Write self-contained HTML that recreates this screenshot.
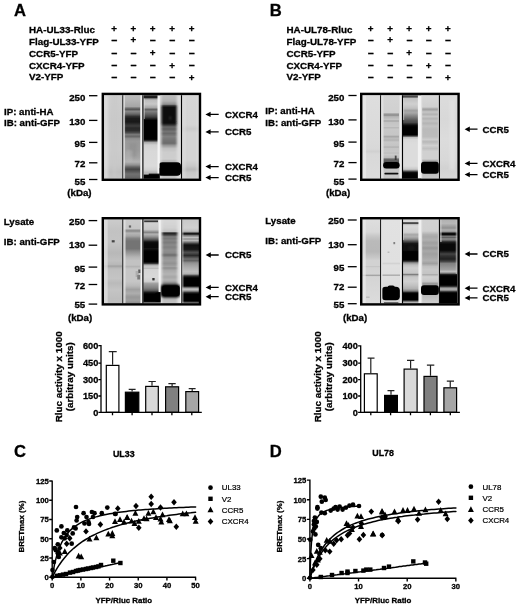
<!DOCTYPE html>
<html><head><meta charset="utf-8"><title>Figure</title>
<style>html,body{margin:0;padding:0;background:#fff}svg{display:block;filter:blur(0.45px)}text{font-family:'Liberation Sans', sans-serif;fill:#000}.b{stroke:#000;stroke-width:0.3px}</style>
</head><body>
<svg width="520" height="606" viewBox="0 0 520 606">
<defs>
<filter id="b1" x="-50%" y="-50%" width="200%" height="200%"><feGaussianBlur stdDeviation="0.4"/></filter>
<filter id="b2" x="-50%" y="-50%" width="200%" height="200%"><feGaussianBlur stdDeviation="0.7"/></filter>
<filter id="b3" x="-50%" y="-50%" width="200%" height="200%"><feGaussianBlur stdDeviation="1.0"/></filter>
<filter id="b4" x="-50%" y="-50%" width="200%" height="200%"><feGaussianBlur stdDeviation="1.5"/></filter>
<filter id="b5" x="-50%" y="-50%" width="200%" height="200%"><feGaussianBlur stdDeviation="2.2"/></filter>
<filter id="b6" x="-50%" y="-50%" width="200%" height="200%"><feGaussianBlur stdDeviation="3.0"/></filter>
<filter id="h1" x="-50%" y="-10%" width="200%" height="120%"><feGaussianBlur stdDeviation="0.6 0"/></filter>
<filter id="h2" x="-50%" y="-10%" width="200%" height="120%"><feGaussianBlur stdDeviation="1.0 0"/></filter>
<filter id="h3" x="-50%" y="-10%" width="200%" height="120%"><feGaussianBlur stdDeviation="1.6 0"/></filter>
</defs>
<rect width="520" height="606" fill="#fff"/>
<text x="13.9" y="15.8" font-size="16.6" font-weight="bold" text-anchor="start" class="b" >A</text>
<text x="269.7" y="15.8" font-size="16.6" font-weight="bold" text-anchor="start" class="b" >B</text>
<text x="13.9" y="457" font-size="16.6" font-weight="bold" text-anchor="start" class="b" >C</text>
<text x="269.7" y="457" font-size="16.6" font-weight="bold" text-anchor="start" class="b" >D</text>
<text x="29" y="32.8" font-size="9.8" font-weight="bold" text-anchor="start" class="b" >HA-UL33-Rluc</text>
<text x="29" y="44.8" font-size="9.8" font-weight="bold" text-anchor="start" class="b" >Flag-UL33-YFP</text>
<text x="29" y="56.7" font-size="9.8" font-weight="bold" text-anchor="start" class="b" >CCR5-YFP</text>
<text x="29" y="68.7" font-size="9.8" font-weight="bold" text-anchor="start" class="b" >CXCR4-YFP</text>
<text x="29" y="80.4" font-size="9.8" font-weight="bold" text-anchor="start" class="b" >V2-YFP</text>
<text x="114" y="31.5" font-size="9.8" font-weight="bold" text-anchor="middle" class="b" >+</text>
<text x="133.3" y="31.5" font-size="9.8" font-weight="bold" text-anchor="middle" class="b" >+</text>
<text x="152.5" y="31.5" font-size="9.8" font-weight="bold" text-anchor="middle" class="b" >+</text>
<text x="172" y="31.5" font-size="9.8" font-weight="bold" text-anchor="middle" class="b" >+</text>
<text x="191.5" y="31.5" font-size="9.8" font-weight="bold" text-anchor="middle" class="b" >+</text>
<text x="114" y="43.5" font-size="10.5" font-weight="bold" text-anchor="middle" class="b" >−</text>
<text x="133.3" y="43.4" font-size="9.8" font-weight="bold" text-anchor="middle" class="b" >+</text>
<text x="152.5" y="43.5" font-size="10.5" font-weight="bold" text-anchor="middle" class="b" >−</text>
<text x="172" y="43.5" font-size="10.5" font-weight="bold" text-anchor="middle" class="b" >−</text>
<text x="191.5" y="43.5" font-size="10.5" font-weight="bold" text-anchor="middle" class="b" >−</text>
<text x="114" y="56.5" font-size="10.5" font-weight="bold" text-anchor="middle" class="b" >−</text>
<text x="133.3" y="56.5" font-size="10.5" font-weight="bold" text-anchor="middle" class="b" >−</text>
<text x="152.5" y="56.4" font-size="9.8" font-weight="bold" text-anchor="middle" class="b" >+</text>
<text x="172" y="56.5" font-size="10.5" font-weight="bold" text-anchor="middle" class="b" >−</text>
<text x="191.5" y="56.5" font-size="10.5" font-weight="bold" text-anchor="middle" class="b" >−</text>
<text x="114" y="69.2" font-size="10.5" font-weight="bold" text-anchor="middle" class="b" >−</text>
<text x="133.3" y="69.2" font-size="10.5" font-weight="bold" text-anchor="middle" class="b" >−</text>
<text x="152.5" y="69.2" font-size="10.5" font-weight="bold" text-anchor="middle" class="b" >−</text>
<text x="172" y="69.1" font-size="9.8" font-weight="bold" text-anchor="middle" class="b" >+</text>
<text x="191.5" y="69.2" font-size="10.5" font-weight="bold" text-anchor="middle" class="b" >−</text>
<text x="114" y="81.0" font-size="10.5" font-weight="bold" text-anchor="middle" class="b" >−</text>
<text x="133.3" y="81.0" font-size="10.5" font-weight="bold" text-anchor="middle" class="b" >−</text>
<text x="152.5" y="81.0" font-size="10.5" font-weight="bold" text-anchor="middle" class="b" >−</text>
<text x="172" y="81.0" font-size="10.5" font-weight="bold" text-anchor="middle" class="b" >−</text>
<text x="191.5" y="80.9" font-size="9.8" font-weight="bold" text-anchor="middle" class="b" >+</text>
<text x="286.5" y="32.8" font-size="9.8" font-weight="bold" text-anchor="start" class="b" >HA-UL78-Rluc</text>
<text x="286.5" y="44.8" font-size="9.8" font-weight="bold" text-anchor="start" class="b" >Flag-UL78-YFP</text>
<text x="286.5" y="56.7" font-size="9.8" font-weight="bold" text-anchor="start" class="b" >CCR5-YFP</text>
<text x="286.5" y="68.7" font-size="9.8" font-weight="bold" text-anchor="start" class="b" >CXCR4-YFP</text>
<text x="286.5" y="80.4" font-size="9.8" font-weight="bold" text-anchor="start" class="b" >V2-YFP</text>
<text x="370.6" y="31.5" font-size="9.8" font-weight="bold" text-anchor="middle" class="b" >+</text>
<text x="390" y="31.5" font-size="9.8" font-weight="bold" text-anchor="middle" class="b" >+</text>
<text x="409.2" y="31.5" font-size="9.8" font-weight="bold" text-anchor="middle" class="b" >+</text>
<text x="428.5" y="31.5" font-size="9.8" font-weight="bold" text-anchor="middle" class="b" >+</text>
<text x="447.8" y="31.5" font-size="9.8" font-weight="bold" text-anchor="middle" class="b" >+</text>
<text x="370.6" y="43.5" font-size="10.5" font-weight="bold" text-anchor="middle" class="b" >−</text>
<text x="390" y="43.4" font-size="9.8" font-weight="bold" text-anchor="middle" class="b" >+</text>
<text x="409.2" y="43.5" font-size="10.5" font-weight="bold" text-anchor="middle" class="b" >−</text>
<text x="428.5" y="43.5" font-size="10.5" font-weight="bold" text-anchor="middle" class="b" >−</text>
<text x="447.8" y="43.5" font-size="10.5" font-weight="bold" text-anchor="middle" class="b" >−</text>
<text x="370.6" y="56.5" font-size="10.5" font-weight="bold" text-anchor="middle" class="b" >−</text>
<text x="390" y="56.5" font-size="10.5" font-weight="bold" text-anchor="middle" class="b" >−</text>
<text x="409.2" y="56.4" font-size="9.8" font-weight="bold" text-anchor="middle" class="b" >+</text>
<text x="428.5" y="56.5" font-size="10.5" font-weight="bold" text-anchor="middle" class="b" >−</text>
<text x="447.8" y="56.5" font-size="10.5" font-weight="bold" text-anchor="middle" class="b" >−</text>
<text x="370.6" y="69.2" font-size="10.5" font-weight="bold" text-anchor="middle" class="b" >−</text>
<text x="390" y="69.2" font-size="10.5" font-weight="bold" text-anchor="middle" class="b" >−</text>
<text x="409.2" y="69.2" font-size="10.5" font-weight="bold" text-anchor="middle" class="b" >−</text>
<text x="428.5" y="69.1" font-size="9.8" font-weight="bold" text-anchor="middle" class="b" >+</text>
<text x="447.8" y="69.2" font-size="10.5" font-weight="bold" text-anchor="middle" class="b" >−</text>
<text x="370.6" y="81.0" font-size="10.5" font-weight="bold" text-anchor="middle" class="b" >−</text>
<text x="390" y="81.0" font-size="10.5" font-weight="bold" text-anchor="middle" class="b" >−</text>
<text x="409.2" y="81.0" font-size="10.5" font-weight="bold" text-anchor="middle" class="b" >−</text>
<text x="428.5" y="81.0" font-size="10.5" font-weight="bold" text-anchor="middle" class="b" >−</text>
<text x="447.8" y="80.9" font-size="9.8" font-weight="bold" text-anchor="middle" class="b" >+</text>
<rect x="102" y="94" width="99" height="86" fill="#d6d6d6"/>
<clipPath id="c1"><rect x="104" y="95.2" width="18.40" height="83.60"/></clipPath>
<g clip-path="url(#c1)">
<linearGradient id="g1" gradientUnits="userSpaceOnUse" x1="0" y1="95.2" x2="0" y2="178.8">
<stop offset="0.0000" stop-color="#cecece"/>
<stop offset="0.2967" stop-color="#cacaca"/>
<stop offset="0.6555" stop-color="#cccccc"/>
<stop offset="0.8349" stop-color="#c8c8c8"/>
<stop offset="0.9187" stop-color="#c0c0c0"/>
<stop offset="1.0000" stop-color="#c6c6c6"/>
</linearGradient>
<rect x="104.00" y="92.2" width="18.40" height="89.60" fill="url(#g1)"/>
<rect x="104.00" y="95.20" width="4.05" height="83.60" rx="0" fill="#e4e4e4" opacity="0.6" filter="url(#b3)"/>
<rect x="112.28" y="95.20" width="4.60" height="83.60" rx="0" fill="#c8c8c8" opacity="0.5" filter="url(#b3)"/>
</g>
<clipPath id="c2"><rect x="124.2" y="95.2" width="16.20" height="83.60"/></clipPath>
<g clip-path="url(#c2)">
<linearGradient id="g2" gradientUnits="userSpaceOnUse" x1="0" y1="95.2" x2="0" y2="178.8">
<stop offset="0.0000" stop-color="#bcbcbc"/>
<stop offset="0.0694" stop-color="#b4b4b4"/>
<stop offset="0.1352" stop-color="#a6a6a6"/>
<stop offset="0.1567" stop-color="#6c6c6c"/>
<stop offset="0.1711" stop-color="#585858"/>
<stop offset="0.1926" stop-color="#888888"/>
<stop offset="0.2249" stop-color="#686868"/>
<stop offset="0.2548" stop-color="#303030"/>
<stop offset="0.2787" stop-color="#1c1c1c"/>
<stop offset="0.3206" stop-color="#181818"/>
<stop offset="0.3505" stop-color="#303030"/>
<stop offset="0.3684" stop-color="#3c3c3c"/>
<stop offset="0.3923" stop-color="#282828"/>
<stop offset="0.4222" stop-color="#2c2c2c"/>
<stop offset="0.4462" stop-color="#484848"/>
<stop offset="0.4701" stop-color="#787878"/>
<stop offset="0.4952" stop-color="#686868"/>
<stop offset="0.5179" stop-color="#8c8c8c"/>
<stop offset="0.5478" stop-color="#9a9a9a"/>
<stop offset="0.6555" stop-color="#9c9c9c"/>
<stop offset="0.7512" stop-color="#a6a6a6"/>
<stop offset="0.7990" stop-color="#b2b2b2"/>
<stop offset="0.8349" stop-color="#909090"/>
<stop offset="0.8589" stop-color="#646464"/>
<stop offset="0.8864" stop-color="#444444"/>
<stop offset="0.9127" stop-color="#585858"/>
<stop offset="0.9426" stop-color="#707070"/>
<stop offset="0.9785" stop-color="#686868"/>
<stop offset="1.0000" stop-color="#5c5c5c"/>
</linearGradient>
<rect x="124.20" y="92.2" width="16.20" height="89.60" fill="url(#g2)"/>
<rect x="124.20" y="95.20" width="0.97" height="83.60" rx="0" fill="#d0d0d0" opacity="0.4" filter="url(#b1)"/>
<rect x="129.06" y="143.00" width="8.10" height="14.00" rx="0" fill="#808080" opacity="0.3" filter="url(#b4)"/>
<rect x="125.82" y="150.00" width="6.48" height="12.00" rx="0" fill="#c0c0c0" opacity="0.35" filter="url(#b3)"/>
</g>
<clipPath id="c3"><rect x="143.5" y="95.2" width="17.50" height="83.60"/></clipPath>
<g clip-path="url(#c3)">
<linearGradient id="g3" gradientUnits="userSpaceOnUse" x1="0" y1="95.2" x2="0" y2="178.8">
<stop offset="0.0000" stop-color="#202020"/>
<stop offset="0.0287" stop-color="#202020"/>
<stop offset="0.0431" stop-color="#909090"/>
<stop offset="0.0574" stop-color="#bcbcbc"/>
<stop offset="0.1053" stop-color="#c8c8c8"/>
<stop offset="0.1471" stop-color="#a8a8a8"/>
<stop offset="0.1722" stop-color="#606060"/>
<stop offset="0.1926" stop-color="#808080"/>
<stop offset="0.2285" stop-color="#606060"/>
<stop offset="0.2608" stop-color="#404040"/>
<stop offset="0.2847" stop-color="#181818"/>
<stop offset="0.3026" stop-color="#000000"/>
<stop offset="0.5275" stop-color="#000000"/>
<stop offset="0.5455" stop-color="#383838"/>
<stop offset="0.5634" stop-color="#a8a8a8"/>
<stop offset="0.5957" stop-color="#d0d0d0"/>
<stop offset="0.6675" stop-color="#d8d8d8"/>
<stop offset="0.8469" stop-color="#dadada"/>
<stop offset="0.8947" stop-color="#d0d0d0"/>
<stop offset="0.9246" stop-color="#b8b8b8"/>
<stop offset="1.0000" stop-color="#b0b0b0"/>
</linearGradient>
<rect x="143.50" y="92.2" width="17.50" height="89.60" fill="url(#g3)"/>
<rect x="143.50" y="98.50" width="1.22" height="20.50" rx="0" fill="#e8e8e8" opacity="0.6" filter="url(#b2)"/>
<rect x="157.50" y="95.20" width="5.25" height="83.60" rx="0" fill="#f4f4f4" opacity="1" filter="url(#b2)"/>
<rect x="143.50" y="174.60" width="16.62" height="4.60" rx="0" fill="#000" opacity="1" filter="url(#b2)"/>
<rect x="148.75" y="173.60" width="11.38" height="3.90" rx="0" fill="#000" opacity="0.9" filter="url(#b2)"/>
</g>
<clipPath id="c4"><rect x="159.6" y="95.2" width="21.40" height="83.60"/></clipPath>
<g clip-path="url(#c4)">
<rect x="159.6" y="95.2" width="21.40" height="83.60" fill="#dcdcdc"/>
<linearGradient id="g4" gradientUnits="userSpaceOnUse" x1="0" y1="95.2" x2="0" y2="178.8">
<stop offset="0.0000" stop-color="#bcbcbc"/>
<stop offset="0.0694" stop-color="#b2b2b2"/>
<stop offset="0.1089" stop-color="#909090"/>
<stop offset="0.1268" stop-color="#303030"/>
<stop offset="0.1471" stop-color="#0a0a0a"/>
<stop offset="0.3325" stop-color="#080808"/>
<stop offset="0.3529" stop-color="#303030"/>
<stop offset="0.3804" stop-color="#686868"/>
<stop offset="0.4043" stop-color="#5c5c5c"/>
<stop offset="0.4330" stop-color="#747474"/>
<stop offset="0.4593" stop-color="#686868"/>
<stop offset="0.4952" stop-color="#808080"/>
<stop offset="0.5299" stop-color="#747474"/>
<stop offset="0.5754" stop-color="#6c6c6c"/>
<stop offset="0.6017" stop-color="#989898"/>
<stop offset="0.6376" stop-color="#c0c0c0"/>
<stop offset="0.6794" stop-color="#cccccc"/>
<stop offset="0.7632" stop-color="#cecece"/>
<stop offset="0.7871" stop-color="#b8b8b8"/>
<stop offset="1.0000" stop-color="#c4c4c4"/>
</linearGradient>
<rect x="161.40" y="92.2" width="15.40" height="89.60" fill="url(#g4)" filter="url(#h2)"/>
<rect x="169.23" y="116.50" width="2.14" height="3.00" rx="0" fill="#444" opacity="0.6" filter="url(#b3)"/>
<rect x="158.53" y="162.20" width="22.47" height="13.60" rx="4" fill="#000" opacity="1" filter="url(#b2)"/>
<rect x="160.88" y="163.00" width="19.47" height="12.20" rx="3" fill="#000" opacity="1" filter="url(#b2)"/>
<rect x="157.46" y="168.00" width="6.42" height="7.60" rx="3" fill="#000" opacity="1" filter="url(#b2)"/>
</g>
<clipPath id="c5"><rect x="182" y="95.2" width="17.20" height="83.60"/></clipPath>
<g clip-path="url(#c5)">
<linearGradient id="g5" gradientUnits="userSpaceOnUse" x1="0" y1="95.2" x2="0" y2="178.8">
<stop offset="0.0000" stop-color="#d6d6d6"/>
<stop offset="0.3565" stop-color="#d4d4d4"/>
<stop offset="0.4043" stop-color="#cacaca"/>
<stop offset="0.4522" stop-color="#d4d4d4"/>
<stop offset="0.7751" stop-color="#d4d4d4"/>
<stop offset="0.8469" stop-color="#c8c8c8"/>
<stop offset="0.8864" stop-color="#b8b8b8"/>
<stop offset="0.9246" stop-color="#c8c8c8"/>
<stop offset="1.0000" stop-color="#d0d0d0"/>
</linearGradient>
<rect x="182.00" y="92.2" width="17.20" height="89.60" fill="url(#g5)"/>
<rect x="182.00" y="95.20" width="3.44" height="83.60" rx="0" fill="#dedede" opacity="0.6" filter="url(#b3)"/>
<rect x="196.62" y="95.20" width="2.58" height="83.60" rx="0" fill="#dedede" opacity="0.6" filter="url(#b3)"/>
</g>
<rect x="122.35" y="95.2" width="1.1" height="83.60000000000001" fill="#000"/>
<rect x="123.55" y="95.2" width="0.9" height="83.60000000000001" fill="#f0f0f0"/>
<rect x="140.80" y="95.2" width="1.0" height="83.60000000000001" fill="#f4f4f4"/>
<rect x="142.35" y="95.2" width="1.1" height="83.60000000000001" fill="#000"/>
<rect x="180.95" y="95.2" width="1.1" height="83.60000000000001" fill="#000"/>
<rect x="102.8" y="93.9" width="97.19999999999999" height="85.89999999999999" fill="none" stroke="#000" stroke-width="2.4"/>
<text x="85.3" y="101" font-size="9.7" font-weight="bold" text-anchor="end" class="b" >250</text>
<rect x="89" y="95.05" width="8.400000000000006" height="1.3" fill="#000"/>
<text x="85.3" y="125" font-size="9.7" font-weight="bold" text-anchor="end" class="b" >130</text>
<rect x="89" y="119.75" width="8.400000000000006" height="1.3" fill="#000"/>
<text x="85.3" y="147" font-size="9.7" font-weight="bold" text-anchor="end" class="b" >95</text>
<rect x="89" y="141.75" width="8.400000000000006" height="1.3" fill="#000"/>
<text x="85.3" y="167" font-size="9.7" font-weight="bold" text-anchor="end" class="b" >72</text>
<rect x="89" y="162.15" width="8.400000000000006" height="1.3" fill="#000"/>
<text x="85.3" y="185" font-size="9.7" font-weight="bold" text-anchor="end" class="b" >55</text>
<rect x="89" y="178.85" width="8.400000000000006" height="1.3" fill="#000"/>
<text x="67.3" y="195.9" font-size="9.7" font-weight="bold" text-anchor="start" class="b" >(kDa)</text>
<text x="4.0" y="115" font-size="9.7" font-weight="bold" text-anchor="start" class="b" >IP: anti-HA</text>
<text x="4.0" y="126" font-size="9.7" font-weight="bold" text-anchor="start" class="b" >IB: anti-GFP</text>
<path d="M205.4,114.4 l5.2,-2.7 v2.05 h8.099999999999984 v1.3 h-8.099999999999984 v2.05 z" fill="#000"/>
<text x="225.0" y="117.7" font-size="9.7" font-weight="bold" text-anchor="start" class="b" >CXCR4</text>
<path d="M205.4,131.9 l5.2,-2.7 v2.05 h8.099999999999984 v1.3 h-8.099999999999984 v2.05 z" fill="#000"/>
<text x="225.0" y="135.2" font-size="9.7" font-weight="bold" text-anchor="start" class="b" >CCR5</text>
<path d="M205.4,166.6 l5.2,-2.7 v2.05 h8.099999999999984 v1.3 h-8.099999999999984 v2.05 z" fill="#000"/>
<text x="225.0" y="169.9" font-size="9.7" font-weight="bold" text-anchor="start" class="b" >CXCR4</text>
<path d="M205.4,177.6 l5.2,-2.7 v2.05 h8.099999999999984 v1.3 h-8.099999999999984 v2.05 z" fill="#000"/>
<text x="225.0" y="180.9" font-size="9.7" font-weight="bold" text-anchor="start" class="b" >CCR5</text>
<rect x="102" y="218" width="99" height="86" fill="#d0d0d0"/>
<clipPath id="c6"><rect x="104" y="219.2" width="18.40" height="84.30"/></clipPath>
<g clip-path="url(#c6)">
<linearGradient id="g6" gradientUnits="userSpaceOnUse" x1="0" y1="219.2" x2="0" y2="303.5">
<stop offset="0.0000" stop-color="#cccccc"/>
<stop offset="0.1400" stop-color="#c2c2c2"/>
<stop offset="0.2705" stop-color="#c4c4c4"/>
<stop offset="0.4009" stop-color="#b8b8b8"/>
<stop offset="0.4911" stop-color="#c0c0c0"/>
<stop offset="0.5374" stop-color="#b8b8b8"/>
<stop offset="0.5575" stop-color="#a2a2a2"/>
<stop offset="0.5789" stop-color="#b8b8b8"/>
<stop offset="0.6026" stop-color="#c0c0c0"/>
<stop offset="0.7023" stop-color="#c4c4c4"/>
<stop offset="0.7568" stop-color="#bababa"/>
<stop offset="0.8399" stop-color="#c4c4c4"/>
<stop offset="0.9466" stop-color="#bebebe"/>
<stop offset="1.0000" stop-color="#c0c0c0"/>
</linearGradient>
<rect x="104.00" y="216.2" width="18.40" height="90.30" fill="url(#g6)"/>
<rect x="104.00" y="219.20" width="3.68" height="84.30" rx="0" fill="#e2e2e2" opacity="0.7" filter="url(#b2)"/>
<rect x="111.73" y="240.20" width="2.94" height="2.20" rx="0" fill="#383838" opacity="0.9" filter="url(#b1)"/>
</g>
<clipPath id="c7"><rect x="124.3" y="219.2" width="16.20" height="84.30"/></clipPath>
<g clip-path="url(#c7)">
<linearGradient id="g7" gradientUnits="userSpaceOnUse" x1="0" y1="219.2" x2="0" y2="303.5">
<stop offset="0.0000" stop-color="#cccccc"/>
<stop offset="0.1115" stop-color="#c6c6c6"/>
<stop offset="0.1281" stop-color="#989898"/>
<stop offset="0.1400" stop-color="#868686"/>
<stop offset="0.1542" stop-color="#a6a6a6"/>
<stop offset="0.1696" stop-color="#b4b4b4"/>
<stop offset="0.1993" stop-color="#a6a6a6"/>
<stop offset="0.2266" stop-color="#848484"/>
<stop offset="0.2586" stop-color="#747474"/>
<stop offset="0.3499" stop-color="#747474"/>
<stop offset="0.3772" stop-color="#8a8a8a"/>
<stop offset="0.4009" stop-color="#989898"/>
<stop offset="0.4484" stop-color="#b4b4b4"/>
<stop offset="0.4911" stop-color="#c2c2c2"/>
<stop offset="0.5433" stop-color="#c2c2c2"/>
<stop offset="0.5611" stop-color="#b4b4b4"/>
<stop offset="0.5907" stop-color="#c6c6c6"/>
<stop offset="0.7378" stop-color="#c6c6c6"/>
<stop offset="0.7900" stop-color="#bababa"/>
<stop offset="0.8339" stop-color="#a0a0a0"/>
<stop offset="0.8790" stop-color="#aeaeae"/>
<stop offset="0.9229" stop-color="#989898"/>
<stop offset="0.9668" stop-color="#a0a0a0"/>
<stop offset="1.0000" stop-color="#8a8a8a"/>
</linearGradient>
<rect x="124.30" y="216.2" width="16.20" height="90.30" fill="url(#g7)"/>
<rect x="124.30" y="219.20" width="1.62" height="84.30" rx="0" fill="#e0e0e0" opacity="0.5" filter="url(#b2)"/>
<rect x="128.84" y="225.40" width="2.27" height="2.20" rx="0" fill="#555" opacity="0.85" filter="url(#b1)"/>
<rect x="138.23" y="269.50" width="2.59" height="3.50" rx="0" fill="#3a3a3a" opacity="0.75" filter="url(#b1)"/>
<rect x="137.26" y="275.00" width="2.92" height="4.50" rx="0" fill="#4a4a4a" opacity="0.6" filter="url(#b1)"/>
<rect x="135.64" y="271.00" width="3.24" height="6.00" rx="0" fill="#888" opacity="0.4" filter="url(#b2)"/>
</g>
<clipPath id="c8"><rect x="143.2" y="219.2" width="19.00" height="84.30"/></clipPath>
<g clip-path="url(#c8)">
<linearGradient id="g8" gradientUnits="userSpaceOnUse" x1="0" y1="219.2" x2="0" y2="303.5">
<stop offset="0.0000" stop-color="#d4d4d4"/>
<stop offset="0.0498" stop-color="#d0d0d0"/>
<stop offset="0.1210" stop-color="#c8c8c8"/>
<stop offset="0.1435" stop-color="#a0a0a0"/>
<stop offset="0.1554" stop-color="#808080"/>
<stop offset="0.1684" stop-color="#a0a0a0"/>
<stop offset="0.1827" stop-color="#b0b0b0"/>
<stop offset="0.2088" stop-color="#909090"/>
<stop offset="0.2444" stop-color="#505050"/>
<stop offset="0.2705" stop-color="#101010"/>
<stop offset="0.2942" stop-color="#080808"/>
<stop offset="0.3357" stop-color="#080808"/>
<stop offset="0.3499" stop-color="#161616"/>
<stop offset="0.3654" stop-color="#080808"/>
<stop offset="0.3855" stop-color="#000000"/>
<stop offset="0.5077" stop-color="#000000"/>
<stop offset="0.5255" stop-color="#383838"/>
<stop offset="0.5433" stop-color="#b0b0b0"/>
<stop offset="0.5670" stop-color="#d0d0d0"/>
<stop offset="0.5824" stop-color="#b8b8b8"/>
<stop offset="0.5967" stop-color="#d4d4d4"/>
<stop offset="0.6856" stop-color="#d8d8d8"/>
<stop offset="0.7378" stop-color="#d0d0d0"/>
<stop offset="0.7639" stop-color="#a0a0a0"/>
<stop offset="0.7900" stop-color="#909090"/>
<stop offset="0.8161" stop-color="#808080"/>
<stop offset="0.8434" stop-color="#606060"/>
<stop offset="0.8695" stop-color="#181818"/>
<stop offset="0.8873" stop-color="#000000"/>
<stop offset="0.9751" stop-color="#000000"/>
<stop offset="0.9870" stop-color="#606060"/>
<stop offset="0.9964" stop-color="#b0b0b0"/>
<stop offset="1.0000" stop-color="#b0b0b0"/>
</linearGradient>
<rect x="143.20" y="216.2" width="19.00" height="90.30" fill="url(#g8)"/>
<rect x="144.15" y="220.40" width="13.87" height="1.80" rx="0" fill="#282828" opacity="0.9" filter="url(#b1)"/>
<rect x="158.59" y="219.20" width="5.51" height="72.80" rx="0" fill="#f2f2f2" opacity="1" filter="url(#b2)"/>
<rect x="152.32" y="278.00" width="2.28" height="2.40" rx="0" fill="#202020" opacity="0.9" filter="url(#b1)"/>
<rect x="154.60" y="292.50" width="6.65" height="9.50" rx="3" fill="#000" opacity="1" filter="url(#b2)"/>
</g>
<clipPath id="c9"><rect x="160.5" y="219.2" width="19.50" height="84.30"/></clipPath>
<g clip-path="url(#c9)">
<rect x="160.5" y="219.2" width="19.50" height="84.30" fill="#e2e2e2"/>
<linearGradient id="g9" gradientUnits="userSpaceOnUse" x1="0" y1="219.2" x2="0" y2="303.5">
<stop offset="0.0000" stop-color="#d8d8d8"/>
<stop offset="0.1044" stop-color="#d0d0d0"/>
<stop offset="0.1471" stop-color="#c0c0c0"/>
<stop offset="0.1601" stop-color="#404040"/>
<stop offset="0.1708" stop-color="#242424"/>
<stop offset="0.1874" stop-color="#444444"/>
<stop offset="0.2088" stop-color="#808080"/>
<stop offset="0.2266" stop-color="#767676"/>
<stop offset="0.2527" stop-color="#848484"/>
<stop offset="0.2788" stop-color="#7c7c7c"/>
<stop offset="0.3060" stop-color="#8a8a8a"/>
<stop offset="0.3321" stop-color="#808080"/>
<stop offset="0.3677" stop-color="#909090"/>
<stop offset="0.4009" stop-color="#8a8a8a"/>
<stop offset="0.4247" stop-color="#6c6c6c"/>
<stop offset="0.4555" stop-color="#949494"/>
<stop offset="0.4911" stop-color="#9c9c9c"/>
<stop offset="0.5255" stop-color="#929292"/>
<stop offset="0.5611" stop-color="#a2a2a2"/>
<stop offset="0.5789" stop-color="#8e8e8e"/>
<stop offset="0.6050" stop-color="#a8a8a8"/>
<stop offset="0.6501" stop-color="#b4b4b4"/>
<stop offset="0.6856" stop-color="#a6a6a6"/>
<stop offset="0.7212" stop-color="#b4b4b4"/>
<stop offset="0.7509" stop-color="#989898"/>
<stop offset="1.0000" stop-color="#c4c4c4"/>
</linearGradient>
<rect x="162.10" y="216.2" width="15.30" height="90.30" fill="url(#g9)" filter="url(#h2)"/>
<rect x="160.50" y="284.30" width="19.89" height="13.20" rx="4" fill="#000" opacity="1" filter="url(#b3)"/>
<rect x="162.06" y="285.60" width="17.55" height="10.70" rx="3" fill="#000" opacity="1" filter="url(#b2)"/>
</g>
<clipPath id="c10"><rect x="182.2" y="219.2" width="17.00" height="84.30"/></clipPath>
<g clip-path="url(#c10)">
<linearGradient id="g10" gradientUnits="userSpaceOnUse" x1="0" y1="219.2" x2="0" y2="303.5">
<stop offset="0.0000" stop-color="#c8c8c8"/>
<stop offset="0.1044" stop-color="#d0d0d0"/>
<stop offset="0.1388" stop-color="#c0c0c0"/>
<stop offset="0.1542" stop-color="#a0a0a0"/>
<stop offset="0.1625" stop-color="#181818"/>
<stop offset="0.1779" stop-color="#181818"/>
<stop offset="0.1898" stop-color="#707070"/>
<stop offset="0.2171" stop-color="#c0c0c0"/>
<stop offset="0.2349" stop-color="#909090"/>
<stop offset="0.2527" stop-color="#b8b8b8"/>
<stop offset="0.2705" stop-color="#808080"/>
<stop offset="0.2883" stop-color="#404040"/>
<stop offset="0.3060" stop-color="#101010"/>
<stop offset="0.3582" stop-color="#181818"/>
<stop offset="0.3772" stop-color="#383838"/>
<stop offset="0.3938" stop-color="#505050"/>
<stop offset="0.4128" stop-color="#404040"/>
<stop offset="0.4294" stop-color="#282828"/>
<stop offset="0.4484" stop-color="#484848"/>
<stop offset="0.4721" stop-color="#707070"/>
<stop offset="0.4911" stop-color="#606060"/>
<stop offset="0.5172" stop-color="#909090"/>
<stop offset="0.5433" stop-color="#a0a0a0"/>
<stop offset="0.5789" stop-color="#b0b0b0"/>
<stop offset="0.6228" stop-color="#c0c0c0"/>
<stop offset="0.6501" stop-color="#b0b0b0"/>
<stop offset="0.6667" stop-color="#505050"/>
<stop offset="0.6845" stop-color="#101010"/>
<stop offset="0.7023" stop-color="#000000"/>
<stop offset="0.7900" stop-color="#000000"/>
<stop offset="0.8043" stop-color="#404040"/>
<stop offset="0.8161" stop-color="#a0a0a0"/>
<stop offset="0.8351" stop-color="#c0c0c0"/>
<stop offset="0.8517" stop-color="#909090"/>
<stop offset="0.8695" stop-color="#303030"/>
<stop offset="0.8873" stop-color="#000000"/>
<stop offset="0.9668" stop-color="#000000"/>
<stop offset="0.9822" stop-color="#303030"/>
<stop offset="0.9941" stop-color="#909090"/>
</linearGradient>
<rect x="182.20" y="216.2" width="17.00" height="90.30" fill="url(#g10)"/>
<rect x="182.20" y="219.20" width="1.36" height="84.30" rx="0" fill="#c8c8c8" opacity="0.5" filter="url(#b2)"/>
</g>
<rect x="122.35" y="219.2" width="1.1" height="84.30000000000001" fill="#000"/>
<rect x="123.55" y="219.2" width="0.9" height="84.30000000000001" fill="#f0f0f0"/>
<rect x="140.90" y="219.2" width="1.0" height="84.30000000000001" fill="#f4f4f4"/>
<rect x="142.35" y="219.2" width="1.1" height="84.30000000000001" fill="#000"/>
<rect x="180.00" y="219.2" width="1.0" height="84.30000000000001" fill="#f4f4f4"/>
<rect x="181.25" y="219.2" width="0.9" height="84.30000000000001" fill="#222"/>
<rect x="102.8" y="218.2" width="97.19999999999999" height="86.20000000000002" fill="none" stroke="#000" stroke-width="2.4"/>
<text x="85.2" y="225" font-size="9.7" font-weight="bold" text-anchor="end" class="b" >250</text>
<rect x="88.6" y="219.95" width="8.600000000000009" height="1.3" fill="#000"/>
<text x="85.2" y="248.3" font-size="9.7" font-weight="bold" text-anchor="end" class="b" >130</text>
<rect x="88.6" y="244.54999999999998" width="8.600000000000009" height="1.3" fill="#000"/>
<text x="85.2" y="271.6" font-size="9.7" font-weight="bold" text-anchor="end" class="b" >95</text>
<rect x="88.6" y="266.45000000000005" width="8.600000000000009" height="1.3" fill="#000"/>
<text x="85.2" y="288.9" font-size="9.7" font-weight="bold" text-anchor="end" class="b" >72</text>
<rect x="88.6" y="283.85" width="8.600000000000009" height="1.3" fill="#000"/>
<text x="85.2" y="308" font-size="9.7" font-weight="bold" text-anchor="end" class="b" >55</text>
<rect x="88.6" y="303.45000000000005" width="8.600000000000009" height="1.3" fill="#000"/>
<text x="68" y="320.8" font-size="9.7" font-weight="bold" text-anchor="start" class="b" >(kDa)</text>
<text x="3.8" y="225" font-size="9.7" font-weight="bold" text-anchor="start" class="b" >Lysate</text>
<text x="3.8" y="245.1" font-size="9.7" font-weight="bold" text-anchor="start" class="b" >IB: anti-GFP</text>
<path d="M205.6,255 l5.2,-2.7 v2.05 h7.899999999999994 v1.3 h-7.899999999999994 v2.05 z" fill="#000"/>
<text x="225.0" y="258.3" font-size="9.7" font-weight="bold" text-anchor="start" class="b" >CCR5</text>
<path d="M205.6,287.4 l5.2,-2.7 v2.05 h7.899999999999994 v1.3 h-7.899999999999994 v2.05 z" fill="#000"/>
<text x="225.0" y="290.7" font-size="9.7" font-weight="bold" text-anchor="start" class="b" >CXCR4</text>
<path d="M205.6,296.7 l5.2,-2.7 v2.05 h7.899999999999994 v1.3 h-7.899999999999994 v2.05 z" fill="#000"/>
<text x="225.0" y="300.0" font-size="9.7" font-weight="bold" text-anchor="start" class="b" >CCR5</text>
<rect x="361" y="94" width="98" height="86" fill="#dadada"/>
<clipPath id="c11"><rect x="362.5" y="95.2" width="17.70" height="83.60"/></clipPath>
<g clip-path="url(#c11)">
<linearGradient id="g11" gradientUnits="userSpaceOnUse" x1="0" y1="95.2" x2="0" y2="178.8">
<stop offset="0.0000" stop-color="#dedede"/>
<stop offset="0.5359" stop-color="#dadada"/>
<stop offset="0.6435" stop-color="#d8d8d8"/>
<stop offset="0.6722" stop-color="#d0d0d0"/>
<stop offset="0.7033" stop-color="#d8d8d8"/>
<stop offset="1.0000" stop-color="#dcdcdc"/>
</linearGradient>
<rect x="362.50" y="92.2" width="17.70" height="89.60" fill="url(#g11)"/>
<rect x="362.50" y="95.20" width="3.54" height="83.60" rx="0" fill="#ececec" opacity="0.7" filter="url(#b2)"/>
</g>
<clipPath id="c12"><rect x="382.2" y="95.2" width="18.00" height="83.60"/></clipPath>
<g clip-path="url(#c12)">
<rect x="382.2" y="95.2" width="18.00" height="83.60" fill="#dcdcdc"/>
<linearGradient id="g12" gradientUnits="userSpaceOnUse" x1="0" y1="95.2" x2="0" y2="178.8">
<stop offset="0.0000" stop-color="#d4d4d4"/>
<stop offset="0.2069" stop-color="#d0d0d0"/>
<stop offset="0.2249" stop-color="#9c9c9c"/>
<stop offset="0.2392" stop-color="#8c8c8c"/>
<stop offset="0.2560" stop-color="#b4b4b4"/>
<stop offset="0.2907" stop-color="#c4c4c4"/>
<stop offset="0.3086" stop-color="#a6a6a6"/>
<stop offset="0.3266" stop-color="#c4c4c4"/>
<stop offset="0.3744" stop-color="#c8c8c8"/>
<stop offset="0.3888" stop-color="#b6b6b6"/>
<stop offset="0.4043" stop-color="#c8c8c8"/>
<stop offset="0.4761" stop-color="#c6c6c6"/>
<stop offset="0.4952" stop-color="#a6a6a6"/>
<stop offset="0.5156" stop-color="#bcbcbc"/>
<stop offset="0.5395" stop-color="#b4b4b4"/>
<stop offset="0.5598" stop-color="#c8c8c8"/>
<stop offset="0.6077" stop-color="#c4c4c4"/>
<stop offset="0.6196" stop-color="#aeaeae"/>
<stop offset="0.6352" stop-color="#c4c4c4"/>
<stop offset="0.6794" stop-color="#c8c8c8"/>
<stop offset="0.6914" stop-color="#bcbcbc"/>
<stop offset="0.7069" stop-color="#cacaca"/>
<stop offset="0.7452" stop-color="#bcbcbc"/>
<stop offset="0.7656" stop-color="#686868"/>
<stop offset="0.7847" stop-color="#5c5c5c"/>
<stop offset="0.7990" stop-color="#585858"/>
<stop offset="0.8469" stop-color="#808080"/>
<stop offset="0.8756" stop-color="#b0b0b0"/>
<stop offset="0.8876" stop-color="#c4c4c4"/>
<stop offset="1.0000" stop-color="#c8c8c8"/>
</linearGradient>
<rect x="383.60" y="92.2" width="15.40" height="89.60" fill="url(#g12)" filter="url(#h1)"/>
<rect x="383.10" y="162.10" width="16.56" height="6.40" rx="3.2" fill="#000" opacity="1" filter="url(#b1)"/>
<rect x="384.36" y="172.70" width="14.04" height="1.80" rx="0.8" fill="#111" opacity="1" filter="url(#b1)"/>
<rect x="394.80" y="155.60" width="1.80" height="4.40" rx="0" fill="#303030" opacity="0.85" filter="url(#b1)"/>
</g>
<clipPath id="c13"><rect x="403.0" y="95.2" width="18.60" height="83.60"/></clipPath>
<g clip-path="url(#c13)">
<linearGradient id="g13" gradientUnits="userSpaceOnUse" x1="0" y1="95.2" x2="0" y2="178.8">
<stop offset="0.0000" stop-color="#484848"/>
<stop offset="0.0215" stop-color="#484848"/>
<stop offset="0.0371" stop-color="#c0c0c0"/>
<stop offset="0.1053" stop-color="#d0d0d0"/>
<stop offset="0.1567" stop-color="#c0c0c0"/>
<stop offset="0.1842" stop-color="#a0a0a0"/>
<stop offset="0.2105" stop-color="#a8a8a8"/>
<stop offset="0.2368" stop-color="#909090"/>
<stop offset="0.2727" stop-color="#707070"/>
<stop offset="0.2990" stop-color="#585858"/>
<stop offset="0.3266" stop-color="#484848"/>
<stop offset="0.3445" stop-color="#242424"/>
<stop offset="0.3612" stop-color="#0a0a0a"/>
<stop offset="0.3804" stop-color="#000000"/>
<stop offset="0.4713" stop-color="#000000"/>
<stop offset="0.4880" stop-color="#383838"/>
<stop offset="0.5060" stop-color="#c0c0c0"/>
<stop offset="0.5299" stop-color="#d8d8d8"/>
<stop offset="0.5837" stop-color="#dcdcdc"/>
<stop offset="0.8469" stop-color="#dcdcdc"/>
<stop offset="0.8864" stop-color="#c8c8c8"/>
<stop offset="0.9043" stop-color="#707070"/>
<stop offset="0.9211" stop-color="#101010"/>
<stop offset="0.9390" stop-color="#000000"/>
<stop offset="1.0000" stop-color="#000000"/>
</linearGradient>
<rect x="403.00" y="92.2" width="18.60" height="89.60" fill="url(#g13)"/>
<rect x="417.88" y="95.20" width="5.58" height="83.60" rx="0" fill="#f2f2f2" opacity="1" filter="url(#b2)"/>
<rect x="403.00" y="98.00" width="1.12" height="22.00" rx="0" fill="#e0e0e0" opacity="0.6" filter="url(#b2)"/>
</g>
<clipPath id="c14"><rect x="421.0" y="95.2" width="17.90" height="83.60"/></clipPath>
<g clip-path="url(#c14)">
<rect x="421.0" y="95.2" width="17.90" height="83.60" fill="#e2e2e2"/>
<linearGradient id="g14" gradientUnits="userSpaceOnUse" x1="0" y1="95.2" x2="0" y2="178.8">
<stop offset="0.0000" stop-color="#d8d8d8"/>
<stop offset="0.1411" stop-color="#d0d0d0"/>
<stop offset="0.1627" stop-color="#a8a8a8"/>
<stop offset="0.1746" stop-color="#a0a0a0"/>
<stop offset="0.1890" stop-color="#b8b8b8"/>
<stop offset="0.2010" stop-color="#c6c6c6"/>
<stop offset="0.2285" stop-color="#b2b2b2"/>
<stop offset="0.2548" stop-color="#c6c6c6"/>
<stop offset="0.2811" stop-color="#b4b4b4"/>
<stop offset="0.3086" stop-color="#c2c2c2"/>
<stop offset="0.3349" stop-color="#b4b4b4"/>
<stop offset="0.3708" stop-color="#c2c2c2"/>
<stop offset="0.4055" stop-color="#bababa"/>
<stop offset="0.4952" stop-color="#bcbcbc"/>
<stop offset="0.5299" stop-color="#cccccc"/>
<stop offset="0.5574" stop-color="#b8b8b8"/>
<stop offset="0.6017" stop-color="#d0d0d0"/>
<stop offset="0.6376" stop-color="#c0c0c0"/>
<stop offset="0.6722" stop-color="#d0d0d0"/>
<stop offset="0.7632" stop-color="#d0d0d0"/>
<stop offset="0.7883" stop-color="#a0a0a0"/>
<stop offset="1.0000" stop-color="#c8c8c8"/>
</linearGradient>
<rect x="422.20" y="92.2" width="15.70" height="89.60" fill="url(#g14)" filter="url(#h1)"/>
<rect x="421.00" y="161.80" width="17.90" height="12.00" rx="3" fill="#000" opacity="1" filter="url(#b2)"/>
<rect x="421.89" y="163.00" width="16.29" height="9.60" rx="3" fill="#000" opacity="1" filter="url(#b2)"/>
</g>
<clipPath id="c15"><rect x="440" y="95.2" width="17.50" height="83.60"/></clipPath>
<g clip-path="url(#c15)">
<linearGradient id="g15" gradientUnits="userSpaceOnUse" x1="0" y1="95.2" x2="0" y2="178.8">
<stop offset="0.0000" stop-color="#dcdcdc"/>
<stop offset="0.2967" stop-color="#d8d8d8"/>
<stop offset="0.5359" stop-color="#dcdcdc"/>
<stop offset="0.7751" stop-color="#d8d8d8"/>
<stop offset="0.8708" stop-color="#d2d2d2"/>
<stop offset="1.0000" stop-color="#d8d8d8"/>
</linearGradient>
<rect x="440.00" y="92.2" width="17.50" height="89.60" fill="url(#g15)"/>
<rect x="449.62" y="100.00" width="5.25" height="70.00" rx="0" fill="#e4e4e4" opacity="0.6" filter="url(#b3)"/>
</g>
<rect x="380.15" y="95.2" width="1.1" height="83.60000000000001" fill="#000"/>
<rect x="381.35" y="95.2" width="0.9" height="83.60000000000001" fill="#f0f0f0"/>
<rect x="400.30" y="95.2" width="1.0" height="83.60000000000001" fill="#f4f4f4"/>
<rect x="401.95" y="95.2" width="1.1" height="83.60000000000001" fill="#000"/>
<rect x="438.85" y="95.2" width="1.1" height="83.60000000000001" fill="#000"/>
<rect x="361.2" y="93.9" width="97.4" height="85.89999999999999" fill="none" stroke="#000" stroke-width="2.4"/>
<text x="344.3" y="101" font-size="9.7" font-weight="bold" text-anchor="end" class="b" >250</text>
<rect x="348.4" y="94.85" width="8.200000000000045" height="1.3" fill="#000"/>
<text x="344.3" y="125" font-size="9.7" font-weight="bold" text-anchor="end" class="b" >130</text>
<rect x="348.4" y="119.25" width="8.200000000000045" height="1.3" fill="#000"/>
<text x="344.3" y="147" font-size="9.7" font-weight="bold" text-anchor="end" class="b" >95</text>
<rect x="348.4" y="141.45" width="8.200000000000045" height="1.3" fill="#000"/>
<text x="344.3" y="167" font-size="9.7" font-weight="bold" text-anchor="end" class="b" >72</text>
<rect x="348.4" y="161.95" width="8.200000000000045" height="1.3" fill="#000"/>
<text x="344.3" y="185" font-size="9.7" font-weight="bold" text-anchor="end" class="b" >55</text>
<rect x="348.4" y="178.45" width="8.200000000000045" height="1.3" fill="#000"/>
<text x="326" y="195.5" font-size="9.7" font-weight="bold" text-anchor="start" class="b" >(kDa)</text>
<text x="265.3" y="114" font-size="9.7" font-weight="bold" text-anchor="start" class="b" >IP: anti-HA</text>
<text x="265.3" y="126.4" font-size="9.7" font-weight="bold" text-anchor="start" class="b" >IB: anti-GFP</text>
<path d="M464.6,129.2 l5.2,-2.7 v2.05 h7.699999999999977 v1.3 h-7.699999999999977 v2.05 z" fill="#000"/>
<text x="482.5" y="132.5" font-size="9.7" font-weight="bold" text-anchor="start" class="b" >CCR5</text>
<path d="M464.6,163.4 l5.2,-2.7 v2.05 h7.699999999999977 v1.3 h-7.699999999999977 v2.05 z" fill="#000"/>
<text x="482.5" y="166.7" font-size="9.7" font-weight="bold" text-anchor="start" class="b" >CXCR4</text>
<path d="M464.6,174.6 l5.2,-2.7 v2.05 h7.699999999999977 v1.3 h-7.699999999999977 v2.05 z" fill="#000"/>
<text x="482.5" y="177.9" font-size="9.7" font-weight="bold" text-anchor="start" class="b" >CCR5</text>
<rect x="361" y="218" width="98" height="86" fill="#d8d8d8"/>
<clipPath id="c16"><rect x="362.5" y="219.2" width="17.70" height="84.30"/></clipPath>
<g clip-path="url(#c16)">
<linearGradient id="g16" gradientUnits="userSpaceOnUse" x1="0" y1="219.2" x2="0" y2="303.5">
<stop offset="0.0000" stop-color="#dedede"/>
<stop offset="0.1518" stop-color="#d8d8d8"/>
<stop offset="0.1993" stop-color="#c8c8c8"/>
<stop offset="0.2586" stop-color="#bababa"/>
<stop offset="0.3855" stop-color="#b8b8b8"/>
<stop offset="0.4555" stop-color="#c8c8c8"/>
<stop offset="0.4911" stop-color="#d2d2d2"/>
<stop offset="0.5492" stop-color="#d2d2d2"/>
<stop offset="0.5611" stop-color="#c6c6c6"/>
<stop offset="0.5765" stop-color="#d2d2d2"/>
<stop offset="0.6501" stop-color="#d4d4d4"/>
<stop offset="0.6667" stop-color="#a0a0a0"/>
<stop offset="0.6809" stop-color="#d4d4d4"/>
<stop offset="1.0000" stop-color="#dcdcdc"/>
</linearGradient>
<rect x="362.50" y="216.2" width="17.70" height="90.30" fill="url(#g16)"/>
<rect x="362.50" y="219.20" width="3.19" height="84.30" rx="0" fill="#ececec" opacity="0.7" filter="url(#b2)"/>
<rect x="366.04" y="296.50" width="3.54" height="1.50" rx="0" fill="#aaa" opacity="0.6" filter="url(#b1)"/>
</g>
<clipPath id="c17"><rect x="382.2" y="219.2" width="18.00" height="84.30"/></clipPath>
<g clip-path="url(#c17)">
<linearGradient id="g17" gradientUnits="userSpaceOnUse" x1="0" y1="219.2" x2="0" y2="303.5">
<stop offset="0.0000" stop-color="#e2e2e2"/>
<stop offset="0.5077" stop-color="#e0e0e0"/>
<stop offset="0.5255" stop-color="#d2d2d2"/>
<stop offset="0.5433" stop-color="#e0e0e0"/>
<stop offset="0.6501" stop-color="#dedede"/>
<stop offset="0.6643" stop-color="#a0a0a0"/>
<stop offset="0.6785" stop-color="#dedede"/>
<stop offset="0.7568" stop-color="#dcdcdc"/>
<stop offset="0.9703" stop-color="#d4d4d4"/>
<stop offset="1.0000" stop-color="#d0d0d0"/>
</linearGradient>
<rect x="382.20" y="216.2" width="18.00" height="90.30" fill="url(#g17)"/>
<rect x="393.36" y="242.00" width="1.80" height="2.20" rx="0" fill="#6a6a6a" opacity="0.8" filter="url(#b1)"/>
<rect x="387.60" y="251.50" width="1.80" height="1.50" rx="0" fill="#b0b0b0" opacity="0.8" filter="url(#b1)"/>
<rect x="381.66" y="286.80" width="18.18" height="13.40" rx="4" fill="#000" opacity="1" filter="url(#b2)"/>
<rect x="382.56" y="287.60" width="16.38" height="12.00" rx="4" fill="#000" opacity="1" filter="url(#b1)"/>
<rect x="387.60" y="285.60" width="7.20" height="4.40" rx="2" fill="#000" opacity="1" filter="url(#b2)"/>
<rect x="384.00" y="302.20" width="14.40" height="1.20" rx="0" fill="#333" opacity="0.8" filter="url(#b1)"/>
</g>
<clipPath id="c18"><rect x="403.0" y="219.2" width="18.60" height="84.30"/></clipPath>
<g clip-path="url(#c18)">
<linearGradient id="g18" gradientUnits="userSpaceOnUse" x1="0" y1="219.2" x2="0" y2="303.5">
<stop offset="0.0000" stop-color="#d8d8d8"/>
<stop offset="0.0332" stop-color="#d8d8d8"/>
<stop offset="0.0403" stop-color="#484848"/>
<stop offset="0.0546" stop-color="#484848"/>
<stop offset="0.0641" stop-color="#d0d0d0"/>
<stop offset="0.0854" stop-color="#d8d8d8"/>
<stop offset="0.1554" stop-color="#d0d0d0"/>
<stop offset="0.1827" stop-color="#a8a8a8"/>
<stop offset="0.2088" stop-color="#b0b0b0"/>
<stop offset="0.2349" stop-color="#909090"/>
<stop offset="0.2622" stop-color="#505050"/>
<stop offset="0.2883" stop-color="#181818"/>
<stop offset="0.3144" stop-color="#101010"/>
<stop offset="0.3677" stop-color="#101010"/>
<stop offset="0.3855" stop-color="#000000"/>
<stop offset="0.4816" stop-color="#000000"/>
<stop offset="0.4994" stop-color="#303030"/>
<stop offset="0.5172" stop-color="#909090"/>
<stop offset="0.5433" stop-color="#c0c0c0"/>
<stop offset="0.5789" stop-color="#d0d0d0"/>
<stop offset="0.6323" stop-color="#c8c8c8"/>
<stop offset="0.6477" stop-color="#b0b0b0"/>
<stop offset="0.6584" stop-color="#707070"/>
<stop offset="0.6690" stop-color="#b0b0b0"/>
<stop offset="0.6845" stop-color="#c8c8c8"/>
<stop offset="0.7378" stop-color="#d0d0d0"/>
<stop offset="0.7900" stop-color="#c0c0c0"/>
<stop offset="0.8256" stop-color="#b0b0b0"/>
<stop offset="0.8517" stop-color="#808080"/>
<stop offset="0.8695" stop-color="#202020"/>
<stop offset="0.8826" stop-color="#000000"/>
<stop offset="0.9561" stop-color="#000000"/>
<stop offset="0.9703" stop-color="#505050"/>
<stop offset="0.9846" stop-color="#b0b0b0"/>
<stop offset="1.0000" stop-color="#b8b8b8"/>
</linearGradient>
<rect x="403.00" y="216.2" width="18.60" height="90.30" fill="url(#g18)"/>
<rect x="418.44" y="219.20" width="5.02" height="84.30" rx="0" fill="#f0f0f0" opacity="1" filter="url(#b2)"/>
<rect x="403.00" y="225.00" width="0.93" height="15.00" rx="0" fill="#e0e0e0" opacity="0.6" filter="url(#b2)"/>
<rect x="408.58" y="246.00" width="5.58" height="4.00" rx="0" fill="#2a2a2a" opacity="0.35" filter="url(#b3)"/>
</g>
<clipPath id="c19"><rect x="421.0" y="219.2" width="17.90" height="84.30"/></clipPath>
<g clip-path="url(#c19)">
<rect x="421.0" y="219.2" width="17.90" height="84.30" fill="#e0e0e0"/>
<linearGradient id="g19" gradientUnits="userSpaceOnUse" x1="0" y1="219.2" x2="0" y2="303.5">
<stop offset="0.0000" stop-color="#d2d2d2"/>
<stop offset="0.1400" stop-color="#d0d0d0"/>
<stop offset="0.1827" stop-color="#b0b0b0"/>
<stop offset="0.2088" stop-color="#a8a8a8"/>
<stop offset="0.2444" stop-color="#b0b0b0"/>
<stop offset="0.2788" stop-color="#a0a0a0"/>
<stop offset="0.3144" stop-color="#a8a8a8"/>
<stop offset="0.3416" stop-color="#989898"/>
<stop offset="0.3772" stop-color="#a8a8a8"/>
<stop offset="0.4128" stop-color="#a0a0a0"/>
<stop offset="0.4555" stop-color="#a8a8a8"/>
<stop offset="0.4911" stop-color="#b0b0b0"/>
<stop offset="0.5255" stop-color="#a0a0a0"/>
<stop offset="0.5611" stop-color="#c0c0c0"/>
<stop offset="0.5967" stop-color="#c8c8c8"/>
<stop offset="0.6441" stop-color="#c4c4c4"/>
<stop offset="0.6584" stop-color="#a8a8a8"/>
<stop offset="0.6738" stop-color="#c8c8c8"/>
<stop offset="0.6856" stop-color="#d0d0d0"/>
<stop offset="0.7378" stop-color="#c8c8c8"/>
<stop offset="0.7639" stop-color="#989898"/>
<stop offset="1.0000" stop-color="#d0d0d0"/>
</linearGradient>
<rect x="422.20" y="216.2" width="15.70" height="90.30" fill="url(#g19)" filter="url(#h1)"/>
<rect x="421.00" y="285.20" width="17.90" height="9.80" rx="3" fill="#000" opacity="1" filter="url(#b2)"/>
<rect x="421.89" y="286.20" width="16.47" height="7.80" rx="3" fill="#000" opacity="1" filter="url(#b2)"/>
</g>
<clipPath id="c20"><rect x="440" y="219.2" width="17.50" height="84.30"/></clipPath>
<g clip-path="url(#c20)">
<linearGradient id="g20" gradientUnits="userSpaceOnUse" x1="0" y1="219.2" x2="0" y2="303.5">
<stop offset="0.0000" stop-color="#b0b0b0"/>
<stop offset="0.0498" stop-color="#b8b8b8"/>
<stop offset="0.1044" stop-color="#909090"/>
<stop offset="0.1281" stop-color="#b0b0b0"/>
<stop offset="0.1518" stop-color="#909090"/>
<stop offset="0.1637" stop-color="#101010"/>
<stop offset="0.1874" stop-color="#080808"/>
<stop offset="0.1993" stop-color="#808080"/>
<stop offset="0.2171" stop-color="#606060"/>
<stop offset="0.2349" stop-color="#909090"/>
<stop offset="0.2527" stop-color="#606060"/>
<stop offset="0.2705" stop-color="#202020"/>
<stop offset="0.2966" stop-color="#080808"/>
<stop offset="0.3677" stop-color="#080808"/>
<stop offset="0.3938" stop-color="#282828"/>
<stop offset="0.4128" stop-color="#444444"/>
<stop offset="0.4365" stop-color="#303030"/>
<stop offset="0.4721" stop-color="#202020"/>
<stop offset="0.4994" stop-color="#404040"/>
<stop offset="0.5255" stop-color="#808080"/>
<stop offset="0.5611" stop-color="#909090"/>
<stop offset="0.5967" stop-color="#a0a0a0"/>
<stop offset="0.6228" stop-color="#c0c0c0"/>
<stop offset="0.6406" stop-color="#808080"/>
<stop offset="0.6584" stop-color="#101010"/>
<stop offset="0.6762" stop-color="#000000"/>
<stop offset="0.7817" stop-color="#000000"/>
<stop offset="0.7995" stop-color="#383838"/>
<stop offset="0.8138" stop-color="#909090"/>
<stop offset="0.8292" stop-color="#b8b8b8"/>
<stop offset="0.8470" stop-color="#808080"/>
<stop offset="0.8636" stop-color="#181818"/>
<stop offset="0.8790" stop-color="#000000"/>
<stop offset="1.0000" stop-color="#000000"/>
</linearGradient>
<rect x="440.00" y="216.2" width="17.50" height="90.30" fill="url(#g20)"/>
<rect x="440.00" y="219.20" width="1.75" height="22.80" rx="0" fill="#c8c8c8" opacity="0.6" filter="url(#b2)"/>
<rect x="455.75" y="219.20" width="1.75" height="54.80" rx="0" fill="#c8c8c8" opacity="0.6" filter="url(#b2)"/>
</g>
<rect x="380.15" y="219.2" width="1.1" height="84.30000000000001" fill="#000"/>
<rect x="381.35" y="219.2" width="0.9" height="84.30000000000001" fill="#f0f0f0"/>
<rect x="400.30" y="219.2" width="1.0" height="84.30000000000001" fill="#f4f4f4"/>
<rect x="401.95" y="219.2" width="1.1" height="84.30000000000001" fill="#000"/>
<rect x="438.85" y="219.2" width="1.1" height="84.30000000000001" fill="#000"/>
<rect x="361.2" y="218.2" width="97.4" height="86.20000000000002" fill="none" stroke="#000" stroke-width="2.4"/>
<text x="344.3" y="224" font-size="9.7" font-weight="bold" text-anchor="end" class="b" >250</text>
<rect x="347.8" y="219.35" width="8.899999999999977" height="1.3" fill="#000"/>
<text x="344.3" y="248" font-size="9.7" font-weight="bold" text-anchor="end" class="b" >130</text>
<rect x="347.8" y="244.04999999999998" width="8.899999999999977" height="1.3" fill="#000"/>
<text x="344.3" y="271" font-size="9.7" font-weight="bold" text-anchor="end" class="b" >95</text>
<rect x="347.8" y="266.05" width="8.899999999999977" height="1.3" fill="#000"/>
<text x="344.3" y="290" font-size="9.7" font-weight="bold" text-anchor="end" class="b" >72</text>
<rect x="347.8" y="286.55" width="8.899999999999977" height="1.3" fill="#000"/>
<text x="344.3" y="308" font-size="9.7" font-weight="bold" text-anchor="end" class="b" >55</text>
<rect x="347.8" y="303.05" width="8.899999999999977" height="1.3" fill="#000"/>
<text x="343" y="320.5" font-size="9.7" font-weight="bold" text-anchor="start" class="b" >(kDa)</text>
<text x="265.3" y="224.4" font-size="9.7" font-weight="bold" text-anchor="start" class="b" >Lysate</text>
<text x="265.3" y="244" font-size="9.7" font-weight="bold" text-anchor="start" class="b" >IB: anti-GFP</text>
<path d="M464.6,254 l5.2,-2.7 v2.05 h7.699999999999977 v1.3 h-7.699999999999977 v2.05 z" fill="#000"/>
<text x="482.5" y="257.3" font-size="9.7" font-weight="bold" text-anchor="start" class="b" >CCR5</text>
<path d="M464.6,288.2 l5.2,-2.7 v2.05 h7.699999999999977 v1.3 h-7.699999999999977 v2.05 z" fill="#000"/>
<text x="482.5" y="291.5" font-size="9.7" font-weight="bold" text-anchor="start" class="b" >CXCR4</text>
<path d="M464.6,297.9 l5.2,-2.7 v2.05 h7.699999999999977 v1.3 h-7.699999999999977 v2.05 z" fill="#000"/>
<text x="482.5" y="301.2" font-size="9.7" font-weight="bold" text-anchor="start" class="b" >CCR5</text>
<path d="M112.60,364.8 V351.6 M108.8,351.6 H116.7" stroke="#222" stroke-width="1.2" fill="none"/>
<rect x="106.30" y="365.40" width="12.60" height="46.90" fill="#fff" stroke="#000" stroke-width="1.2"/>
<path d="M132.10,391.6 V389.3 M128.7,389.3 H135.6" stroke="#222" stroke-width="1.2" fill="none"/>
<rect x="125.40" y="392.20" width="13.40" height="20.10" fill="#000" stroke="#000" stroke-width="1.2"/>
<path d="M152.00,385.8 V381.5 M148.5,381.5 H155.8" stroke="#222" stroke-width="1.2" fill="none"/>
<rect x="145.70" y="386.40" width="12.60" height="25.90" fill="#d9d9d9" stroke="#000" stroke-width="1.2"/>
<path d="M172.10,386.2 V383.6 M168.4,383.6 H175.7" stroke="#222" stroke-width="1.2" fill="none"/>
<rect x="165.60" y="386.80" width="13.00" height="25.50" fill="#808080" stroke="#000" stroke-width="1.2"/>
<path d="M192.20,391 V388.6 M188.7,388.6 H195.6" stroke="#222" stroke-width="1.2" fill="none"/>
<rect x="185.80" y="391.60" width="12.80" height="20.70" fill="#a6a6a6" stroke="#000" stroke-width="1.2"/>
<path d="M101,345.0 V412.3 H201.8 M98.4,345.6 H101 M98.4,363.2 H101 M98.4,379.6 H101 M98.4,396 H101 M98.4,412.3 H101 M112.5,412.3 V415.3 M132.1,412.3 V415.3 M152,412.3 V415.3 M171.9,412.3 V415.3 M191.8,412.3 V415.3" stroke="#000" stroke-width="1.3" fill="none"/>
<text x="98.3" y="348.8" font-size="9.2" font-weight="bold" text-anchor="end" class="b" >600</text>
<text x="98.3" y="366.4" font-size="9.2" font-weight="bold" text-anchor="end" class="b" >450</text>
<text x="98.3" y="382.8" font-size="9.2" font-weight="bold" text-anchor="end" class="b" >300</text>
<text x="98.3" y="399.2" font-size="9.2" font-weight="bold" text-anchor="end" class="b" >150</text>
<text x="98.3" y="415.5" font-size="9.2" font-weight="bold" text-anchor="end" class="b" >0</text>
<text transform="translate(61.8,376.8) rotate(-90)" font-size="9.9" font-weight="bold" class="b" text-anchor="middle">Rluc activity x 1000</text>
<text transform="translate(73.0,376.8) rotate(-90)" font-size="9.9" font-weight="bold" class="b" text-anchor="middle">(arbitray units)</text>
<path d="M370.80,373.2 V358.2 M367.6,358.2 H374.5" stroke="#222" stroke-width="1.2" fill="none"/>
<rect x="364.40" y="373.80" width="12.80" height="38.50" fill="#fff" stroke="#000" stroke-width="1.2"/>
<path d="M391.00,394.8 V390.7 M387.5,390.7 H394.4" stroke="#222" stroke-width="1.2" fill="none"/>
<rect x="384.60" y="395.40" width="12.80" height="16.90" fill="#000" stroke="#000" stroke-width="1.2"/>
<path d="M410.60,368.5 V360.4 M407,360.4 H414.3" stroke="#222" stroke-width="1.2" fill="none"/>
<rect x="404.10" y="369.10" width="13.00" height="43.20" fill="#d9d9d9" stroke="#000" stroke-width="1.2"/>
<path d="M430.50,375.8 V365.1 M426.9,365.1 H434.3" stroke="#222" stroke-width="1.2" fill="none"/>
<rect x="424.00" y="376.40" width="13.00" height="35.90" fill="#808080" stroke="#000" stroke-width="1.2"/>
<path d="M450.25,387.2 V381.2 M446.8,381.2 H454" stroke="#222" stroke-width="1.2" fill="none"/>
<rect x="443.90" y="387.80" width="12.70" height="24.50" fill="#a6a6a6" stroke="#000" stroke-width="1.2"/>
<path d="M360.7,345.2 V412.3 H459.9 M358.09999999999997,345.8 H360.7 M358.09999999999997,363.2 H360.7 M358.09999999999997,379.6 H360.7 M358.09999999999997,396 H360.7 M358.09999999999997,412.3 H360.7 M370.8,412.3 V415.3 M390.6,412.3 V415.3 M410.5,412.3 V415.3 M430.4,412.3 V415.3 M450.3,412.3 V415.3" stroke="#000" stroke-width="1.3" fill="none"/>
<text x="357.8" y="349.0" font-size="9.2" font-weight="bold" text-anchor="end" class="b" >400</text>
<text x="357.8" y="366.4" font-size="9.2" font-weight="bold" text-anchor="end" class="b" >300</text>
<text x="357.8" y="382.8" font-size="9.2" font-weight="bold" text-anchor="end" class="b" >200</text>
<text x="357.8" y="399.2" font-size="9.2" font-weight="bold" text-anchor="end" class="b" >100</text>
<text x="357.8" y="415.5" font-size="9.2" font-weight="bold" text-anchor="end" class="b" >0</text>
<text transform="translate(320.6,376.8) rotate(-90)" font-size="9.9" font-weight="bold" class="b" text-anchor="middle">Rluc activity x 1000</text>
<text transform="translate(332.4,376.8) rotate(-90)" font-size="9.9" font-weight="bold" class="b" text-anchor="middle">(arbitray units)</text>
<path d="M52.2,577.3 L54.6,563.9 L57.0,554.6 L59.4,547.7 L61.8,542.3 L64.2,538.1 L66.5,534.7 L68.9,531.8 L71.3,529.4 L73.7,527.4 L76.1,525.6 L78.5,524.1 L80.9,522.7 L83.3,521.5 L85.7,520.4 L88.1,519.5 L90.4,518.6 L92.8,517.8 L95.2,517.1 L97.6,516.4 L100.0,515.8 L102.4,515.2 L104.8,514.7 L107.2,514.2 L109.6,513.8 L111.9,513.4 L114.3,513.0 L116.7,512.6 L119.1,512.3 L121.5,512.0 L123.9,511.7 L126.3,511.4 L128.7,511.1 L131.1,510.8 L133.5,510.6 L135.9,510.4 L138.2,510.1 L140.6,509.9 L143.0,509.7 L145.4,509.5 L147.8,509.4 L150.2,509.2 L152.6,509.0 L155.0,508.9 L157.4,508.7 L159.8,508.6 L162.1,508.4 L164.5,508.3 L166.9,508.2 L169.3,508.0 L171.7,507.9 L174.1,507.8 L176.5,507.7 L178.9,507.6 L181.3,507.5 L183.6,507.4 L186.0,507.3 L188.4,507.2 L190.8,507.1 L193.2,507.0 L195.6,506.9 " stroke="#000" stroke-width="1.5" fill="none" stroke-linecap="round"/>
<path d="M52.2,577.3 L54.6,572.6 L57.0,568.4 L59.4,564.7 L61.8,561.3 L64.2,558.2 L66.5,555.4 L68.9,552.8 L71.3,550.5 L73.7,548.3 L76.1,546.3 L78.5,544.4 L80.9,542.6 L83.3,541.0 L85.7,539.5 L88.1,538.1 L90.4,536.7 L92.8,535.5 L95.2,534.3 L97.6,533.1 L100.0,532.1 L102.4,531.1 L104.8,530.1 L107.2,529.2 L109.6,528.4 L111.9,527.5 L114.3,526.8 L116.7,526.0 L119.1,525.3 L121.5,524.6 L123.9,524.0 L126.3,523.3 L128.7,522.7 L131.1,522.2 L133.5,521.6 L135.9,521.1 L138.2,520.6 L140.6,520.1 L143.0,519.6 L145.4,519.1 L147.8,518.7 L150.2,518.3 L152.6,517.9 L155.0,517.5 L157.4,517.1 L159.8,516.7 L162.1,516.4 L164.5,516.0 L166.9,515.7 L169.3,515.3 L171.7,515.0 L174.1,514.7 L176.5,514.4 L178.9,514.1 L181.3,513.8 L183.6,513.6 L186.0,513.3 L188.4,513.0 L190.8,512.8 L193.2,512.5 L195.6,512.3 " stroke="#000" stroke-width="1.5" fill="none" stroke-linecap="round"/>
<path d="M52.2,577.3 L53.3,577.1 L54.5,576.8 L55.6,576.6 L56.8,576.3 L57.9,576.1 L59.1,575.8 L60.2,575.6 L61.4,575.3 L62.5,575.1 L63.7,574.8 L64.8,574.6 L66.0,574.3 L67.1,574.1 L68.3,573.8 L69.4,573.6 L70.6,573.4 L71.7,573.1 L72.8,572.9 L74.0,572.6 L75.1,572.4 L76.3,572.1 L77.4,571.9 L78.6,571.6 L79.7,571.4 L80.9,571.1 L82.0,570.9 L83.2,570.6 L84.3,570.4 L85.5,570.2 L86.6,569.9 L87.8,569.7 L88.9,569.4 L90.1,569.2 L91.2,568.9 L92.4,568.7 L93.5,568.4 L94.6,568.2 L95.8,567.9 L96.9,567.7 L98.1,567.4 L99.2,567.2 L100.4,566.9 L101.5,566.7 L102.7,566.5 L103.8,566.2 L105.0,566.0 L106.1,565.7 L107.3,565.5 L108.4,565.2 L109.6,565.0 L110.7,564.7 L111.9,564.5 L113.0,564.2 L114.1,564.0 L115.3,563.7 L116.4,563.5 L117.6,563.2 L118.7,563.0 L119.9,562.8 L121.0,562.5 " stroke="#000" stroke-width="1.5" fill="none" stroke-linecap="round"/>
<g fill="#000">
<circle cx="76.0" cy="507.0" r="2.35"/>
<circle cx="107.3" cy="507.6" r="2.35"/>
<circle cx="83.6" cy="513.2" r="2.35"/>
<circle cx="91.9" cy="512.0" r="2.35"/>
<circle cx="94.5" cy="513.2" r="2.35"/>
<circle cx="101.8" cy="513.2" r="2.35"/>
<circle cx="115.6" cy="514.0" r="2.35"/>
<circle cx="77.2" cy="517.1" r="2.35"/>
<circle cx="86.5" cy="517.0" r="2.35"/>
<circle cx="93.0" cy="517.0" r="2.35"/>
<circle cx="76.6" cy="520.5" r="2.35"/>
<circle cx="88.5" cy="522.0" r="2.35"/>
<circle cx="84.5" cy="523.5" r="2.35"/>
<circle cx="89.0" cy="523.9" r="2.35"/>
<circle cx="61.4" cy="526.4" r="2.35"/>
<circle cx="74.0" cy="527.4" r="2.35"/>
<circle cx="75.6" cy="528.4" r="2.35"/>
<circle cx="56.8" cy="530.4" r="2.35"/>
<circle cx="67.3" cy="530.4" r="2.35"/>
<circle cx="63.8" cy="533.0" r="2.35"/>
<circle cx="72.7" cy="533.4" r="2.35"/>
<circle cx="66.7" cy="535.0" r="2.35"/>
<circle cx="61.4" cy="537.3" r="2.35"/>
<circle cx="64.7" cy="538.3" r="2.35"/>
<circle cx="71.7" cy="543.7" r="2.35"/>
<circle cx="57.8" cy="544.3" r="2.35"/>
<circle cx="54.8" cy="548.2" r="2.35"/>
<circle cx="55.8" cy="550.2" r="2.35"/>
<circle cx="57.8" cy="553.2" r="2.35"/>
<circle cx="58.8" cy="557.0" r="2.35"/>
<circle cx="53.9" cy="562.0" r="2.35"/>
<circle cx="52.5" cy="570.0" r="2.35"/>
<circle cx="52.5" cy="576.8" r="2.35"/>
<circle cx="115.0" cy="513.8" r="2.35"/>
<path d="M117.8,505.2 l2.8,3.2 l-2.8,3.2 l-2.8,-3.2 z"/>
<path d="M100.4,521.3 l2.8,3.2 l-2.8,3.2 l-2.8,-3.2 z"/>
<path d="M86.0,528.2 l2.8,3.2 l-2.8,3.2 l-2.8,-3.2 z"/>
<path d="M69.7,535.1 l2.8,3.2 l-2.8,3.2 l-2.8,-3.2 z"/>
<path d="M66.7,540.5 l2.8,3.2 l-2.8,3.2 l-2.8,-3.2 z"/>
<path d="M59.8,544.8 l2.8,3.2 l-2.8,3.2 l-2.8,-3.2 z"/>
<path d="M136.0,502.8 l2.8,3.2 l-2.8,3.2 l-2.8,-3.2 z"/>
<path d="M151.2,493.6 l2.8,3.2 l-2.8,3.2 l-2.8,-3.2 z"/>
<path d="M151.2,500.8 l2.8,3.2 l-2.8,3.2 l-2.8,-3.2 z"/>
<path d="M160.5,504.3 l2.8,3.2 l-2.8,3.2 l-2.8,-3.2 z"/>
<path d="M174.0,499.1 l2.8,3.2 l-2.8,3.2 l-2.8,-3.2 z"/>
<path d="M138.8,524.5 l2.8,3.2 l-2.8,3.2 l-2.8,-3.2 z"/>
<path d="M176.3,523.6 l2.8,3.2 l-2.8,3.2 l-2.8,-3.2 z"/>
<path d="M127.0,514.2 l3.0,5.8 h-6.0 z"/>
<path d="M120.0,516.2 l3.0,5.8 h-6.0 z"/>
<path d="M115.0,518.2 l3.0,5.8 h-6.0 z"/>
<path d="M124.0,518.7 l3.0,5.8 h-6.0 z"/>
<path d="M108.3,530.7 l3.0,5.8 h-6.0 z"/>
<path d="M112.3,530.1 l3.0,5.8 h-6.0 z"/>
<path d="M89.5,535.7 l3.0,5.8 h-6.0 z"/>
<path d="M96.4,534.4 l3.0,5.8 h-6.0 z"/>
<path d="M78.6,552.7 l3.0,5.8 h-6.0 z"/>
<path d="M81.2,553.4 l3.0,5.8 h-6.0 z"/>
<path d="M64.8,548.3 l3.0,5.8 h-6.0 z"/>
<path d="M59.8,549.7 l3.0,5.8 h-6.0 z"/>
<path d="M112.3,532.5 l3.0,5.8 h-6.0 z"/>
<path d="M127.3,514.3 l3.0,5.8 h-6.0 z"/>
<path d="M135.4,510.0 l3.0,5.8 h-6.0 z"/>
<path d="M134.5,520.1 l3.0,5.8 h-6.0 z"/>
<path d="M138.8,518.0 l3.0,5.8 h-6.0 z"/>
<path d="M144.0,515.2 l3.0,5.8 h-6.0 z"/>
<path d="M148.4,510.0 l3.0,5.8 h-6.0 z"/>
<path d="M153.3,508.5 l3.0,5.8 h-6.0 z"/>
<path d="M156.0,514.3 l3.0,5.8 h-6.0 z"/>
<path d="M160.5,515.7 l3.0,5.8 h-6.0 z"/>
<path d="M162.5,511.4 l3.0,5.8 h-6.0 z"/>
<path d="M161.3,518.7 l3.0,5.8 h-6.0 z"/>
<path d="M169.0,516.3 l3.0,5.8 h-6.0 z"/>
<path d="M182.7,510.5 l3.0,5.8 h-6.0 z"/>
<path d="M186.4,510.5 l3.0,5.8 h-6.0 z"/>
<path d="M195.0,514.3 l3.0,5.8 h-6.0 z"/>
<path d="M195.7,518.0 l3.0,5.8 h-6.0 z"/>
<path d="M131.5,517.7 l3.0,5.8 h-6.0 z"/>
<path d="M146.6,515.5 l3.0,5.8 h-6.0 z"/>
<path d="M169.9,517.5 l3.0,5.8 h-6.0 z"/>
<rect x="54.8" y="573.6" width="4.4" height="4.4"/>
<rect x="57.8" y="573.1" width="4.4" height="4.4"/>
<rect x="60.8" y="572.4" width="4.4" height="4.4"/>
<rect x="63.8" y="571.8" width="4.4" height="4.4"/>
<rect x="67.8" y="570.4" width="4.4" height="4.4"/>
<rect x="70.8" y="569.8" width="4.4" height="4.4"/>
<rect x="73.8" y="568.8" width="4.4" height="4.4"/>
<rect x="75.8" y="568.3" width="4.4" height="4.4"/>
<rect x="77.8" y="567.8" width="4.4" height="4.4"/>
<rect x="80.8" y="567.3" width="4.4" height="4.4"/>
<rect x="83.8" y="566.8" width="4.4" height="4.4"/>
<rect x="85.8" y="566.3" width="4.4" height="4.4"/>
<rect x="88.8" y="565.8" width="4.4" height="4.4"/>
<rect x="90.8" y="565.3" width="4.4" height="4.4"/>
<rect x="93.8" y="564.8" width="4.4" height="4.4"/>
<rect x="96.2" y="564.2" width="4.4" height="4.4"/>
<rect x="98.8" y="562.8" width="4.4" height="4.4"/>
<rect x="111.1" y="558.5" width="4.4" height="4.4"/>
<rect x="118.2" y="560.8" width="4.4" height="4.4"/>
</g>
<text x="48.8" y="580.2" font-size="7.7" font-weight="bold" text-anchor="end" class="b" >0</text>
<text x="48.8" y="560.9" font-size="7.7" font-weight="bold" text-anchor="end" class="b" >25</text>
<text x="48.8" y="541.7" font-size="7.7" font-weight="bold" text-anchor="end" class="b" >50</text>
<text x="48.8" y="522.4" font-size="7.7" font-weight="bold" text-anchor="end" class="b" >75</text>
<text x="48.8" y="503.2" font-size="7.7" font-weight="bold" text-anchor="end" class="b" >100</text>
<text x="48.8" y="483.9" font-size="7.7" font-weight="bold" text-anchor="end" class="b" >125</text>
<text x="52.2" y="588" font-size="7.7" font-weight="bold" text-anchor="middle" class="b" >0</text>
<text x="80.88" y="588" font-size="7.7" font-weight="bold" text-anchor="middle" class="b" >10</text>
<text x="109.56" y="588" font-size="7.7" font-weight="bold" text-anchor="middle" class="b" >20</text>
<text x="138.24" y="588" font-size="7.7" font-weight="bold" text-anchor="middle" class="b" >30</text>
<text x="166.92000000000002" y="588" font-size="7.7" font-weight="bold" text-anchor="middle" class="b" >40</text>
<text x="195.60000000000002" y="588" font-size="7.7" font-weight="bold" text-anchor="middle" class="b" >50</text>
<path d="M52.2,480.4 V577.3 H196.20000000000002 M49.2,577.30 H52.2 M49.2,558.04 H52.2 M49.2,538.78 H52.2 M49.2,519.52 H52.2 M49.2,500.26 H52.2 M49.2,481.00 H52.2 M52.20,577.3 V580.5 M80.88,577.3 V580.5 M109.56,577.3 V580.5 M138.24,577.3 V580.5 M166.92,577.3 V580.5 M195.60,577.3 V580.5" stroke="#000" stroke-width="1.4" fill="none"/>
<text x="123.8" y="457" font-size="8.9" font-weight="bold" text-anchor="middle" class="b" >UL33</text>
<text x="123.8" y="603.3" font-size="7.9" font-weight="bold" text-anchor="middle" class="b" >YFP/Rluc Ratio</text>
<text transform="translate(23.5,526.5) rotate(-90)" font-size="7.9" font-weight="bold" class="b" text-anchor="middle">BRETmax (%)</text>
<g fill="#000">
<circle cx="210.5" cy="487.7" r="2.35"/>
<rect x="208.3" y="496.6" width="4.4" height="4.4"/>
<path d="M210.5,506.5 l3.0,5.8 h-6.0 z"/>
<path d="M210.5,518.3 l2.8,3.2 l-2.8,3.2 l-2.8,-3.2 z"/>
</g>
<text x="221.8" y="490" font-size="7.9" font-weight="normal" text-anchor="start" stroke="#000" stroke-width="0.22">UL33</text>
<text x="221.8" y="502" font-size="7.9" font-weight="normal" text-anchor="start" stroke="#000" stroke-width="0.22">V2</text>
<text x="221.8" y="513" font-size="7.9" font-weight="normal" text-anchor="start" stroke="#000" stroke-width="0.22">CCR5</text>
<text x="221.8" y="524" font-size="7.9" font-weight="normal" text-anchor="start" stroke="#000" stroke-width="0.22">CXCR4</text>
<path d="M309.9,578.2 L310.7,554.1 L311.5,541.8 L312.3,534.3 L313.1,529.3 L314.0,525.7 L314.8,523.0 L315.6,520.8 L316.4,519.1 L317.2,517.7 L318.0,516.6 L318.8,515.6 L319.6,514.7 L320.4,514.0 L321.3,513.4 L322.1,512.8 L322.9,512.3 L323.7,511.8 L324.5,511.4 L325.3,511.1 L326.1,510.7 L326.9,510.4 L327.7,510.1 L328.5,509.9 L329.4,509.6 L330.2,509.4 L331.0,509.2 L331.8,509.0 L332.6,508.8 L333.4,508.7 L334.2,508.5 L335.0,508.4 L335.8,508.2 L336.7,508.1 L337.5,508.0 L338.3,507.9 L339.1,507.8 L339.9,507.6 L340.7,507.5 L341.5,507.5 L342.3,507.4 L343.1,507.3 L344.0,507.2 L344.8,507.1 L345.6,507.0 L346.4,507.0 L347.2,506.9 L348.0,506.8 L348.8,506.8 L349.6,506.7 L350.4,506.6 L351.3,506.6 L352.1,506.5 L352.9,506.5 L353.7,506.4 L354.5,506.4 L355.3,506.3 L356.1,506.3 L356.9,506.2 L357.7,506.2 L358.5,506.2 " stroke="#000" stroke-width="1.5" fill="none" stroke-linecap="round"/>
<path d="M309.9,578.2 L312.3,569.9 L314.8,563.1 L317.2,557.6 L319.6,552.8 L322.1,548.8 L324.5,545.3 L326.9,542.3 L329.4,539.6 L331.8,537.3 L334.2,535.1 L336.7,533.2 L339.1,531.5 L341.5,530.0 L344.0,528.5 L346.4,527.2 L348.8,526.0 L351.3,524.9 L353.7,523.9 L356.1,523.0 L358.5,522.1 L361.0,521.3 L363.4,520.5 L365.8,519.8 L368.3,519.1 L370.7,518.5 L373.1,517.9 L375.6,517.3 L378.0,516.8 L380.4,516.3 L382.9,515.8 L385.3,515.3 L387.7,514.9 L390.2,514.5 L392.6,514.1 L395.0,513.7 L397.5,513.4 L399.9,513.0 L402.3,512.7 L404.8,512.4 L407.2,512.1 L409.6,511.8 L412.1,511.5 L414.5,511.2 L416.9,511.0 L419.4,510.7 L421.8,510.5 L424.2,510.3 L426.7,510.0 L429.1,509.8 L431.5,509.6 L434.0,509.4 L436.4,509.2 L438.8,509.0 L441.3,508.9 L443.7,508.7 L446.1,508.5 L448.6,508.3 L451.0,508.2 L453.4,508.0 L455.9,507.9 " stroke="#000" stroke-width="1.5" fill="none" stroke-linecap="round"/>
<path d="M309.9,578.2 L312.3,571.0 L314.8,565.0 L317.2,559.9 L319.6,555.6 L322.1,551.8 L324.5,548.6 L326.9,545.7 L329.4,543.2 L331.8,540.9 L334.2,538.9 L336.7,537.0 L339.1,535.3 L341.5,533.8 L344.0,532.4 L346.4,531.1 L348.8,530.0 L351.3,528.9 L353.7,527.8 L356.1,526.9 L358.5,526.0 L361.0,525.2 L363.4,524.4 L365.8,523.7 L368.3,523.0 L370.7,522.4 L373.1,521.8 L375.6,521.2 L378.0,520.6 L380.4,520.1 L382.9,519.6 L385.3,519.2 L387.7,518.7 L390.2,518.3 L392.6,517.9 L395.0,517.5 L397.5,517.2 L399.9,516.8 L402.3,516.5 L404.8,516.1 L407.2,515.8 L409.6,515.5 L412.1,515.2 L414.5,515.0 L416.9,514.7 L419.4,514.4 L421.8,514.2 L424.2,514.0 L426.7,513.7 L429.1,513.5 L431.5,513.3 L434.0,513.1 L436.4,512.9 L438.8,512.7 L441.3,512.5 L443.7,512.3 L446.1,512.1 L448.6,512.0 L451.0,511.8 L453.4,511.6 L455.9,511.5 " stroke="#000" stroke-width="1.5" fill="none" stroke-linecap="round"/>
<path d="M309.9,578.2 L311.8,577.9 L313.8,577.7 L315.7,577.4 L317.7,577.2 L319.6,576.9 L321.6,576.7 L323.5,576.4 L325.5,576.2 L327.4,575.9 L329.4,575.7 L331.3,575.4 L333.3,575.2 L335.2,574.9 L337.1,574.7 L339.1,574.4 L341.0,574.2 L343.0,573.9 L344.9,573.7 L346.9,573.4 L348.8,573.2 L350.8,572.9 L352.7,572.7 L354.7,572.4 L356.6,572.2 L358.5,571.9 L360.5,571.7 L362.4,571.4 L364.4,571.2 L366.3,570.9 L368.3,570.7 L370.2,570.4 L372.2,570.2 L374.1,569.9 L376.1,569.7 L378.0,569.4 L380.0,569.2 L381.9,568.9 L383.8,568.7 L385.8,568.4 L387.7,568.2 L389.7,567.9 L391.6,567.7 L393.6,567.4 L395.5,567.2 L397.5,566.9 L399.4,566.6 L401.4,566.4 L403.3,566.1 L405.3,565.9 L407.2,565.6 L409.1,565.4 L411.1,565.1 L413.0,564.9 L415.0,564.6 L416.9,564.4 L418.9,564.1 L420.8,563.9 L422.8,563.6 L424.7,563.4 L426.7,563.1 " stroke="#000" stroke-width="1.5" fill="none" stroke-linecap="round"/>
<g fill="#000">
<circle cx="320.8" cy="496.7" r="2.35"/>
<circle cx="324.8" cy="497.7" r="2.35"/>
<circle cx="325.7" cy="500.0" r="2.35"/>
<circle cx="321.8" cy="501.7" r="2.35"/>
<circle cx="317.4" cy="507.2" r="2.35"/>
<circle cx="317.4" cy="508.6" r="2.35"/>
<circle cx="321.4" cy="512.6" r="2.35"/>
<circle cx="324.8" cy="513.2" r="2.35"/>
<circle cx="330.7" cy="510.6" r="2.35"/>
<circle cx="333.7" cy="508.6" r="2.35"/>
<circle cx="335.6" cy="507.2" r="2.35"/>
<circle cx="337.6" cy="509.6" r="2.35"/>
<circle cx="339.6" cy="506.6" r="2.35"/>
<circle cx="342.6" cy="509.6" r="2.35"/>
<circle cx="346.0" cy="507.6" r="2.35"/>
<circle cx="349.5" cy="505.6" r="2.35"/>
<circle cx="353.0" cy="504.7" r="2.35"/>
<circle cx="359.0" cy="506.0" r="2.35"/>
<circle cx="314.9" cy="517.5" r="2.35"/>
<circle cx="313.9" cy="521.0" r="2.35"/>
<circle cx="316.8" cy="521.9" r="2.35"/>
<circle cx="313.9" cy="524.5" r="2.35"/>
<circle cx="315.8" cy="526.4" r="2.35"/>
<circle cx="314.3" cy="528.4" r="2.35"/>
<circle cx="312.9" cy="531.4" r="2.35"/>
<circle cx="315.4" cy="534.4" r="2.35"/>
<circle cx="310.3" cy="539.7" r="2.35"/>
<circle cx="318.2" cy="544.9" r="2.35"/>
<circle cx="320.8" cy="548.2" r="2.35"/>
<circle cx="382.2" cy="535.0" r="2.35"/>
<circle cx="310.0" cy="577.8" r="2.35"/>
<path d="M357.4,512.7 l3.0,5.8 h-6.0 z"/>
<path d="M361.0,513.2 l3.0,5.8 h-6.0 z"/>
<path d="M382.2,508.7 l3.0,5.8 h-6.0 z"/>
<path d="M385.0,513.2 l3.0,5.8 h-6.0 z"/>
<path d="M346.5,520.2 l3.0,5.8 h-6.0 z"/>
<path d="M348.5,522.1 l3.0,5.8 h-6.0 z"/>
<path d="M351.9,526.1 l3.0,5.8 h-6.0 z"/>
<path d="M361.0,523.1 l3.0,5.8 h-6.0 z"/>
<path d="M373.3,530.5 l3.0,5.8 h-6.0 z"/>
<path d="M326.7,537.0 l3.0,5.8 h-6.0 z"/>
<path d="M329.7,538.0 l3.0,5.8 h-6.0 z"/>
<path d="M316.8,547.9 l3.0,5.8 h-6.0 z"/>
<path d="M319.8,548.9 l3.0,5.8 h-6.0 z"/>
<path d="M311.5,552.2 l3.0,5.8 h-6.0 z"/>
<path d="M314.9,559.7 l3.0,5.8 h-6.0 z"/>
<path d="M317.8,556.7 l3.0,5.8 h-6.0 z"/>
<path d="M372.9,530.7 l3.0,5.8 h-6.0 z"/>
<path d="M382.0,507.9 l3.0,5.8 h-6.0 z"/>
<path d="M385.0,511.4 l3.0,5.8 h-6.0 z"/>
<path d="M394.5,508.5 l3.0,5.8 h-6.0 z"/>
<path d="M398.0,515.7 l3.0,5.8 h-6.0 z"/>
<path d="M403.0,507.1 l3.0,5.8 h-6.0 z"/>
<path d="M407.5,507.1 l3.0,5.8 h-6.0 z"/>
<path d="M414.0,505.7 l3.0,5.8 h-6.0 z"/>
<path d="M419.0,510.0 l3.0,5.8 h-6.0 z"/>
<path d="M425.4,506.5 l3.0,5.8 h-6.0 z"/>
<path d="M440.7,507.1 l3.0,5.8 h-6.0 z"/>
<path d="M445.6,510.5 l3.0,5.8 h-6.0 z"/>
<path d="M371.3,508.4 l2.8,3.2 l-2.8,3.2 l-2.8,-3.2 z"/>
<path d="M361.4,520.3 l2.8,3.2 l-2.8,3.2 l-2.8,-3.2 z"/>
<path d="M353.0,524.2 l2.8,3.2 l-2.8,3.2 l-2.8,-3.2 z"/>
<path d="M349.5,530.2 l2.8,3.2 l-2.8,3.2 l-2.8,-3.2 z"/>
<path d="M347.5,532.1 l2.8,3.2 l-2.8,3.2 l-2.8,-3.2 z"/>
<path d="M341.2,536.1 l2.8,3.2 l-2.8,3.2 l-2.8,-3.2 z"/>
<path d="M336.6,537.1 l2.8,3.2 l-2.8,3.2 l-2.8,-3.2 z"/>
<path d="M333.7,540.5 l2.8,3.2 l-2.8,3.2 l-2.8,-3.2 z"/>
<path d="M329.7,548.4 l2.8,3.2 l-2.8,3.2 l-2.8,-3.2 z"/>
<path d="M325.3,547.0 l2.8,3.2 l-2.8,3.2 l-2.8,-3.2 z"/>
<path d="M359.4,536.1 l2.8,3.2 l-2.8,3.2 l-2.8,-3.2 z"/>
<path d="M363.4,531.8 l2.8,3.2 l-2.8,3.2 l-2.8,-3.2 z"/>
<path d="M382.2,532.1 l2.8,3.2 l-2.8,3.2 l-2.8,-3.2 z"/>
<path d="M312.9,566.8 l2.8,3.2 l-2.8,3.2 l-2.8,-3.2 z"/>
<path d="M316.8,561.5 l2.8,3.2 l-2.8,3.2 l-2.8,-3.2 z"/>
<path d="M319.8,555.5 l2.8,3.2 l-2.8,3.2 l-2.8,-3.2 z"/>
<path d="M382.0,514.4 l2.8,3.2 l-2.8,3.2 l-2.8,-3.2 z"/>
<path d="M398.3,518.1 l2.8,3.2 l-2.8,3.2 l-2.8,-3.2 z"/>
<path d="M417.6,516.4 l2.8,3.2 l-2.8,3.2 l-2.8,-3.2 z"/>
<path d="M438.6,498.5 l2.8,3.2 l-2.8,3.2 l-2.8,-3.2 z"/>
<path d="M447.3,515.8 l2.8,3.2 l-2.8,3.2 l-2.8,-3.2 z"/>
<rect x="318.6" y="574.8" width="4.4" height="4.4"/>
<rect x="329.8" y="572.8" width="4.4" height="4.4"/>
<rect x="339.4" y="570.8" width="4.4" height="4.4"/>
<rect x="345.3" y="569.4" width="4.4" height="4.4"/>
<rect x="345.3" y="570.8" width="4.4" height="4.4"/>
<rect x="353.2" y="568.8" width="4.4" height="4.4"/>
<rect x="361.2" y="568.4" width="4.4" height="4.4"/>
<rect x="364.1" y="567.4" width="4.4" height="4.4"/>
<rect x="368.1" y="567.4" width="4.4" height="4.4"/>
<rect x="381.8" y="565.8" width="4.4" height="4.4"/>
<rect x="386.8" y="564.4" width="4.4" height="4.4"/>
<rect x="411.1" y="559.2" width="4.4" height="4.4"/>
<rect x="424.0" y="561.5" width="4.4" height="4.4"/>
<rect x="422.8" y="560.3" width="4.4" height="4.4"/>
</g>
<text x="306.4" y="581.1" font-size="7.7" font-weight="bold" text-anchor="end" class="b" >0</text>
<text x="306.4" y="561.5" font-size="7.7" font-weight="bold" text-anchor="end" class="b" >25</text>
<text x="306.4" y="541.9" font-size="7.7" font-weight="bold" text-anchor="end" class="b" >50</text>
<text x="306.4" y="522.2" font-size="7.7" font-weight="bold" text-anchor="end" class="b" >75</text>
<text x="306.4" y="502.6" font-size="7.7" font-weight="bold" text-anchor="end" class="b" >100</text>
<text x="306.4" y="483.0" font-size="7.7" font-weight="bold" text-anchor="end" class="b" >125</text>
<text x="309.9" y="589" font-size="7.7" font-weight="bold" text-anchor="middle" class="b" >0</text>
<text x="358.54999999999995" y="589" font-size="7.7" font-weight="bold" text-anchor="middle" class="b" >10</text>
<text x="407.2" y="589" font-size="7.7" font-weight="bold" text-anchor="middle" class="b" >20</text>
<text x="455.85" y="589" font-size="7.7" font-weight="bold" text-anchor="middle" class="b" >30</text>
<path d="M309.9,479.5 V578.2 H456.45000000000005 M306.9,578.20 H309.9 M306.9,558.58 H309.9 M306.9,538.96 H309.9 M306.9,519.34 H309.9 M306.9,499.72 H309.9 M306.9,480.10 H309.9 M309.90,578.2 V581.4000000000001 M358.55,578.2 V581.4000000000001 M407.20,578.2 V581.4000000000001 M455.85,578.2 V581.4000000000001" stroke="#000" stroke-width="1.4" fill="none"/>
<text x="383.1" y="456" font-size="8.9" font-weight="bold" text-anchor="middle" class="b" >UL78</text>
<text x="383" y="603.3" font-size="7.9" font-weight="bold" text-anchor="middle" class="b" >YFP/Rluc Ratio</text>
<text transform="translate(281.5,526.5) rotate(-90)" font-size="7.9" font-weight="bold" class="b" text-anchor="middle">BRETmax (%)</text>
<g fill="#000">
<circle cx="470.9" cy="486.7" r="2.35"/>
<rect x="468.7" y="495.6" width="4.4" height="4.4"/>
<path d="M470.9,506.2 l3.0,5.8 h-6.0 z"/>
<path d="M470.9,517.3 l2.8,3.2 l-2.8,3.2 l-2.8,-3.2 z"/>
</g>
<text x="482.5" y="490" font-size="7.9" font-weight="normal" text-anchor="start" stroke="#000" stroke-width="0.22">UL78</text>
<text x="482.5" y="501" font-size="7.9" font-weight="normal" text-anchor="start" stroke="#000" stroke-width="0.22">V2</text>
<text x="482.5" y="512" font-size="7.9" font-weight="normal" text-anchor="start" stroke="#000" stroke-width="0.22">CCR5</text>
<text x="482.5" y="523" font-size="7.9" font-weight="normal" text-anchor="start" stroke="#000" stroke-width="0.22">CXCR4</text>
</svg></body></html>
